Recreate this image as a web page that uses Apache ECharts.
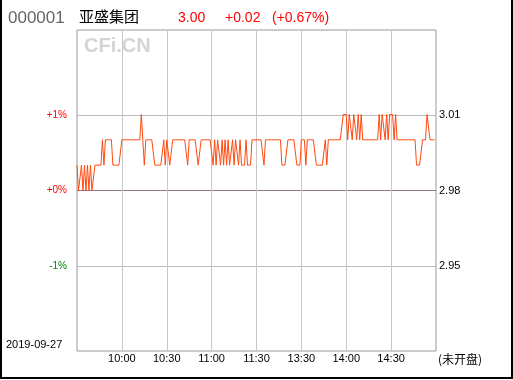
<!DOCTYPE html>
<html><head><meta charset="utf-8">
<script src="https://cdn.jsdelivr.net/npm/echarts@6/dist/echarts.min.js"></script>
<style>html,body{margin:0;padding:0;background:#fff}#c{width:513px;height:380px}</style>
</head><body><div id="c"></div>
<script>
const stockCode = '000001';
const stockName = '亚盛集团';
const tradeDate = '2019-09-27';
const statusText = '(未开盘)';
const watermark = 'CFi.CN';
const prevClose = 2.98;
// minute prices 09:30 .. 11:30
const morningPrices = [
  2.99,2.98,2.98,2.99,2.98,2.99,2.98,2.99,2.98,2.99,2.98,2.98,
  2.99,2.99,2.99,2.99,2.99,
  3.00,2.99,3.00,
  3.00,3.00,3.00,3.00,
  2.99,2.99,2.99,2.99,2.99,2.99,
  3.00,3.00,3.00,3.00,3.00,3.00,3.00,3.00,3.00,3.00,3.00,3.00,
  3.00,3.01,3.00,2.99,
  3.00,3.00,3.00,3.00,3.00,3.00,
  2.99,2.99,2.99,2.99,2.99,2.99,
  3.00,2.99,3.00,3.00,
  2.99,2.99,
  3.00,3.00,3.00,3.00,3.00,3.00,3.00,3.00,3.00,3.00,
  2.99,
  3.00,3.00,3.00,3.00,3.00,3.00,
  2.99,2.99,
  3.00,3.00,3.00,3.00,3.00,3.00,3.00,3.00,
  2.99,3.00,2.99,3.00,3.00,2.99,3.00,2.99,3.00,2.99,3.00,2.99,2.99,3.00,2.99,3.00,3.00,2.99,3.00,2.99,2.99,
  2.99,3.00,2.99,2.99,2.99,3.00,3.00,3.00,3.00
];
// minute prices 13:01 .. 14:59
const afternoonPrices = [
  3.00,3.00,3.00,3.00,
  2.99,
  3.00,3.00,3.00,3.00,3.00,3.00,3.00,3.00,3.00,3.00,3.00,
  2.99,2.99,2.99,2.99,
  3.00,3.00,3.00,3.00,3.00,3.00,
  2.99,2.99,2.99,
  3.00,3.00,3.00,
  2.99,
  3.00,3.00,3.00,3.00,3.00,3.00,
  2.99,2.99,2.99,2.99,2.99,2.99,
  3.00,2.99,
  3.00,3.00,3.00,3.00,3.00,3.00,3.00,3.00,3.00,3.00,
  3.01,3.01,3.01,
  3.00,3.01,3.01,3.00,3.01,3.01,3.00,3.01,3.00,3.01,3.00,3.00,
  3.00,3.00,3.00,3.00,3.00,3.00,3.00,3.00,3.00,
  3.01,3.00,3.01,3.01,3.00,3.01,3.00,3.01,3.01,3.01,3.00,3.01,3.00,
  3.00,3.00,3.00,3.00,3.00,3.00,3.00,3.00,3.00,3.00,3.00,3.00,
  2.99,2.99,2.99,2.99,
  3.00,3.00,3.00,
  3.01,3.01,
  3.00,3.00,3.00,3.00
];
const tickTimes = ['10:00','10:30','11:00','11:30','13:30','14:00','14:30'];
const gridPercents = [-1, 0, 1];

// category minutes of the session
function pad(n){return (n<10?'0':'')+n;}
const times = [];
for (let m = 0; m <= 120; m++) { const t = 9*60+30+m; times.push(pad(Math.floor(t/60))+':'+pad(t%60)); }
for (let m = 1; m <= 120; m++) { const t = 13*60+m; times.push(pad(Math.floor(t/60))+':'+pad(t%60)); }
const prices = morningPrices.concat(afternoonPrices);

const gridVals = gridPercents.map(p => prevClose*(1+p/100));
const span = 0.02125;
const yMin = prevClose*(1-span), yMax = prevClose*(1+span);

const last = prices[prices.length-1];
const chg = last - prevClose;
const pct = chg/prevClose*100;
const sign = chg >= 0 ? '+' : '-';
const txtPrice = last.toFixed(2);
const txtChg = sign + Math.abs(chg).toFixed(2);
const txtPct = '(' + sign + Math.abs(pct).toFixed(2) + '%)';

const FONT = "'Liberation Sans', 'Noto Sans CJK SC', sans-serif";
const chart = echarts.init(document.getElementById('c'));
chart.setOption({
  animation: false,
  backgroundColor: '#fff',
  grid: { left: 77, right: 77, top: 30, bottom: 29, show: true, borderColor: '#999', borderWidth: 1 },
  xAxis: {
    type: 'category', data: times, boundaryGap: false,
    axisLine: { show: false }, axisTick: { show: false },
    axisLabel: { interval: (i, v) => tickTimes.includes(v), margin: 2, fontSize: 11, color: '#000', fontFamily: FONT },
    splitLine: { show: true, interval: (i, v) => tickTimes.includes(v), lineStyle: { color: '#c8c8c8', width: 1 } }
  },
  yAxis: [
    {
      type: 'value', position: 'left', min: yMin, max: yMax,
      axisLine: { show: false },
      axisTick: { show: false, customValues: gridVals },
      axisLabel: {
        customValues: gridVals, margin: 10, fontSize: 10, fontFamily: FONT,
        formatter: v => { const p = Math.round((v/prevClose-1)*100); return (p >= 0 ? '+' : '') + p + '%'; },
        color: v => (Math.round((v/prevClose-1)*100) < 0 ? '#008000' : '#ff0000')
      },
      splitLine: { show: true, lineStyle: { color: ['#bbbbbb', '#8c7a8c', '#bbbbbb'], width: 1 } }
    },
    {
      type: 'value', position: 'right', min: yMin, max: yMax,
      axisLine: { show: false },
      axisTick: { show: false, customValues: gridVals },
      axisLabel: { customValues: gridVals, margin: 3, fontSize: 11, color: '#000', fontFamily: FONT, formatter: v => v.toFixed(2) },
      splitLine: { show: false }
    }
  ],
  series: [{
    type: 'line', yAxisIndex: 1, data: prices, showSymbol: false, symbol: 'none',
    lineStyle: { color: '#ff4a10', width: 1 }
  }],
  graphic: [
    { type: 'rect', shape: { x: 1, y: -5, width: 511, height: 383 }, style: { fill: 'none', stroke: '#000', lineWidth: 2 }, silent: true },
    { type: 'text', left: 8, top: 10, style: { text: stockCode, font: "17px " + FONT, fill: '#666' } },
    { type: 'text', left: 79, top: 9, style: { text: stockName, font: "15px 'Noto Sans CJK SC', sans-serif", fill: '#000' } },
    { type: 'text', left: 178, top: 11, style: { text: txtPrice, font: "14px " + FONT, fill: '#ff0000' } },
    { type: 'text', left: 225, top: 11, style: { text: txtChg, font: "14px " + FONT, fill: '#ff0000' } },
    { type: 'text', left: 272, top: 11, style: { text: txtPct, font: "14px " + FONT, fill: '#ff0000' } },
    { type: 'text', left: 84, top: 36, style: { text: watermark, font: "bold 20px " + FONT, fill: '#d4d4d4' } },
    { type: 'text', left: 6, top: 339, style: { text: tradeDate, font: "11px " + FONT, fill: '#000' } },
    { type: 'text', left: 438, top: 353, style: { text: statusText, font: "12px 'Noto Sans CJK SC', sans-serif", fill: '#000' } }
  ]
});
</script></body></html>
